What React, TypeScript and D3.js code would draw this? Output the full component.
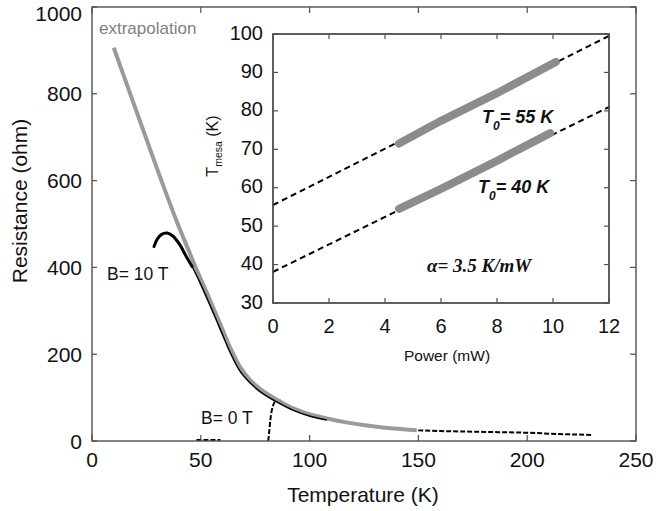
import * as d3 from 'd3';

// main panel: resistance vs temperature
const tempTicks = [0, 50, 100, 150, 200, 250];
const resTicks = [0, 200, 400, 600, 800, 1000];

// gray curve (measured + extrapolation)
const extrapT = [10, 20, 30, 39, 45, 49.6, 54.2, 58.8, 63.4, 68, 72.6, 77.2, 84.9, 92.5, 100.2, 107.9, 115.5, 123.2, 130.8, 138.5, 149.2];
const extrapR = [906, 766, 626, 505, 432, 377, 325, 271, 216, 171, 141, 120, 95, 75, 61, 52, 44, 38, 33, 29, 25];

// B = 10 T (black)
const b10T = [28.5, 30, 32, 34.5, 37, 40.4, 43, 46, 49.6, 54.2, 58.8, 63.4, 68, 72.6, 77.2, 84.9, 92.5, 100.2, 107.9];
const b10R = [448, 465, 476, 479, 473, 452, 428, 402, 365, 313, 259, 205, 161, 134, 114, 90, 70.5, 57, 48.5];

// B = 0 T (dashed, NaN = gap)
const b0T = [48, 52, 53.5, 59, NaN, 81, 81.5, 82, 83, 85, 90, 100, 110, 120, 135, 150, 160, 180, 200, 215, 230];
const b0R = [2.5, 2.5, 2.5, 2.5, NaN, 0, 25, 50, 78, 95, 81, 61, 49, 40, 31, 25, 23, 21, 19, 16, 14];

// inset: T_mesa vs power
const powerTicks = [0, 2, 4, 6, 8, 10, 12];
const tmesaTicks = [30, 40, 50, 60, 70, 80, 90, 100];

const fitP = [0, 12];
const fit55T = [55.5, 99.5];
const fit40T = [38.1, 81];

const data55P = [4.5, 6, 8, 10.1];
const data55T = [71.5, 77.4, 84.6, 92.7];
const data40P = [4.5, 6, 8, 9.9];
const data40T = [54.5, 59.7, 67, 74.2];

const sans = 'Liberation Sans, Arial, Helvetica, sans-serif';
const serif = 'Liberation Serif, Times New Roman, serif';
const axisColor = '#505050';

function zip(xs: number[], ys: number[]): [number, number][] {
  return xs.map((v, i) => [v, ys[i]]);
}

export default function App() {
  const x = d3.scaleLinear().domain([0, 250]).range([92, 636]);
  const y = d3.scaleLinear().domain([0, 1000]).range([441, 7]);

  const px = d3.scaleLinear().domain([0, 12]).range([273, 609]);
  const py = d3.scaleLinear().domain([30, 100]).range([303, 34]);

  const smoothLine = d3
    .line<[number, number]>()
    .x((d) => x(d[0]))
    .y((d) => y(d[1]))
    .curve(d3.curveCatmullRom.alpha(0.5));

  const gapLine = d3
    .line<[number, number]>()
    .defined((d) => !isNaN(d[0]) && !isNaN(d[1]))
    .x((d) => x(d[0]))
    .y((d) => y(d[1]))
    .curve(d3.curveMonotoneX);

  const insetLine = d3
    .line<[number, number]>()
    .x((d) => px(d[0]))
    .y((d) => py(d[1]));

  const b10 = zip(b10T, b10R);
  const [x0, x1] = x.range();
  const [y0, y1] = y.range();

  return (
    <svg
      width={656}
      height={511}
      style={{ position: 'absolute', left: 0, top: 0, background: '#fff' }}
    >
      {/* curves */}
      <path
        d={gapLine(zip(b0T, b0R)) ?? ''}
        fill="none"
        stroke="#000"
        strokeWidth={2}
        strokeDasharray="5,2"
      />
      <path d={smoothLine(zip(extrapT, extrapR)) ?? ''} fill="none" stroke="#9a9a9a" strokeWidth={4} />
      <path d={smoothLine(b10.slice(0, 8)) ?? ''} fill="none" stroke="#000" strokeWidth={3} strokeLinecap="round" />
      <path d={smoothLine(b10.slice(7)) ?? ''} fill="none" stroke="#000" strokeWidth={1.5} />

      {/* main frame */}
      <rect x={x0} y={y1} width={x1 - x0} height={y0 - y1} fill="none" stroke={axisColor} strokeWidth={1.4} />
      {tempTicks.map((t) => (
        <g key={'xt' + t}>
          <line x1={x(t)} x2={x(t)} y1={y0} y2={y0 - 6} stroke={axisColor} strokeWidth={1.2} />
          <line x1={x(t)} x2={x(t)} y1={y1} y2={y1 + 6} stroke={axisColor} strokeWidth={1.2} />
          <text x={x(t)} y={467} textAnchor="middle" fontFamily={sans} fontSize={21} fill="#111">
            {t}
          </text>
        </g>
      ))}
      {resTicks.map((r) => (
        <g key={'yt' + r}>
          <line x1={x0} x2={x0 + 5} y1={y(r)} y2={y(r)} stroke={axisColor} strokeWidth={1.2} />
          <line x1={x1} x2={x1 - 6} y1={y(r)} y2={y(r)} stroke={axisColor} strokeWidth={1.2} />
          <text
            x={82}
            y={Math.max(y(r) + 7.5, 21)}
            textAnchor="end"
            fontFamily={sans}
            fontSize={21}
            fill="#111"
          >
            {r}
          </text>
        </g>
      ))}
      <text x={363} y={502} textAnchor="middle" fontFamily={sans} fontSize={21} fill="#111">
        Temperature (K)
      </text>
      <text
        transform="translate(27,201) rotate(-90)"
        textAnchor="middle"
        fontFamily={sans}
        fontSize={21}
        fill="#111"
      >
        Resistance (ohm)
      </text>

      <text x={99} y={34} fontFamily={sans} fontSize={17} fill="#808080">
        extrapolation
      </text>
      <text x={107} y={280} fontFamily={sans} fontSize={17.5} fill="#111">
        B= 10 T
      </text>
      <text x={201} y={424} fontFamily={sans} fontSize={17.5} fill="#111">
        B= 0 T
      </text>

      {/* inset */}
      <rect
        x={px(0)}
        y={py(100)}
        width={px(12) - px(0)}
        height={py(30) - py(100)}
        fill="#fff"
        stroke={axisColor}
        strokeWidth={1.4}
      />
      <path d={insetLine(zip(fitP, fit55T)) ?? ''} fill="none" stroke="#000" strokeWidth={2} strokeDasharray="6,4" />
      <path d={insetLine(zip(fitP, fit40T)) ?? ''} fill="none" stroke="#000" strokeWidth={2} strokeDasharray="6,4" />
      <path
        d={insetLine(zip(data55P, data55T)) ?? ''}
        fill="none"
        stroke="#8c8c8c"
        strokeWidth={8}
        strokeLinecap="round"
      />
      <path
        d={insetLine(zip(data40P, data40T)) ?? ''}
        fill="none"
        stroke="#8c8c8c"
        strokeWidth={8}
        strokeLinecap="round"
      />
      <rect
        x={px(0)}
        y={py(100)}
        width={px(12) - px(0)}
        height={py(30) - py(100)}
        fill="none"
        stroke={axisColor}
        strokeWidth={1.4}
      />
      {powerTicks.map((p) => (
        <g key={'pt' + p}>
          <line x1={px(p)} x2={px(p)} y1={py(30)} y2={py(30) - 5} stroke={axisColor} strokeWidth={1.2} />
          <line x1={px(p)} x2={px(p)} y1={py(100)} y2={py(100) + 5} stroke={axisColor} strokeWidth={1.2} />
          <text x={px(p)} y={333} textAnchor="middle" fontFamily={sans} fontSize={20} fill="#111">
            {p}
          </text>
        </g>
      ))}
      {tmesaTicks.map((t) => (
        <g key={'tt' + t}>
          <line x1={px(0)} x2={px(0) + 5} y1={py(t)} y2={py(t)} stroke={axisColor} strokeWidth={1.2} />
          <line x1={px(12)} x2={px(12) - 5} y1={py(t)} y2={py(t)} stroke={axisColor} strokeWidth={1.2} />
          <text x={263} y={py(t) + 5.5} textAnchor="end" fontFamily={sans} fontSize={20} fill="#111">
            {t}
          </text>
        </g>
      ))}
      <text x={447} y={361} textAnchor="middle" fontFamily={sans} fontSize={15.5} fill="#111">
        Power (mW)
      </text>
      <text
        transform="translate(218,146) rotate(-90)"
        textAnchor="middle"
        fontFamily={sans}
        fontSize={16}
        fill="#111"
      >
        T
        <tspan fontSize={10.5} dy={4}>
          mesa
        </tspan>
        <tspan dy={-4}> (K)</tspan>
      </text>

      <text x={482} y={123} fontFamily={sans} fontSize={18} fontWeight="bold" fontStyle="italic" fill="#111">
        T
        <tspan fontSize={12} dy={7}>
          0
        </tspan>
        <tspan dy={-7}>= 55 K</tspan>
      </text>
      <text x={478} y={193} fontFamily={sans} fontSize={18} fontWeight="bold" fontStyle="italic" fill="#111">
        T
        <tspan fontSize={12} dy={7}>
          0
        </tspan>
        <tspan dy={-7}>= 40 K</tspan>
      </text>
      <text x={427} y={272} fontFamily={serif} fontSize={19} fontWeight="bold" fontStyle="italic" fill="#111">
        α= 3.5 K/mW
      </text>
    </svg>
  );
}
